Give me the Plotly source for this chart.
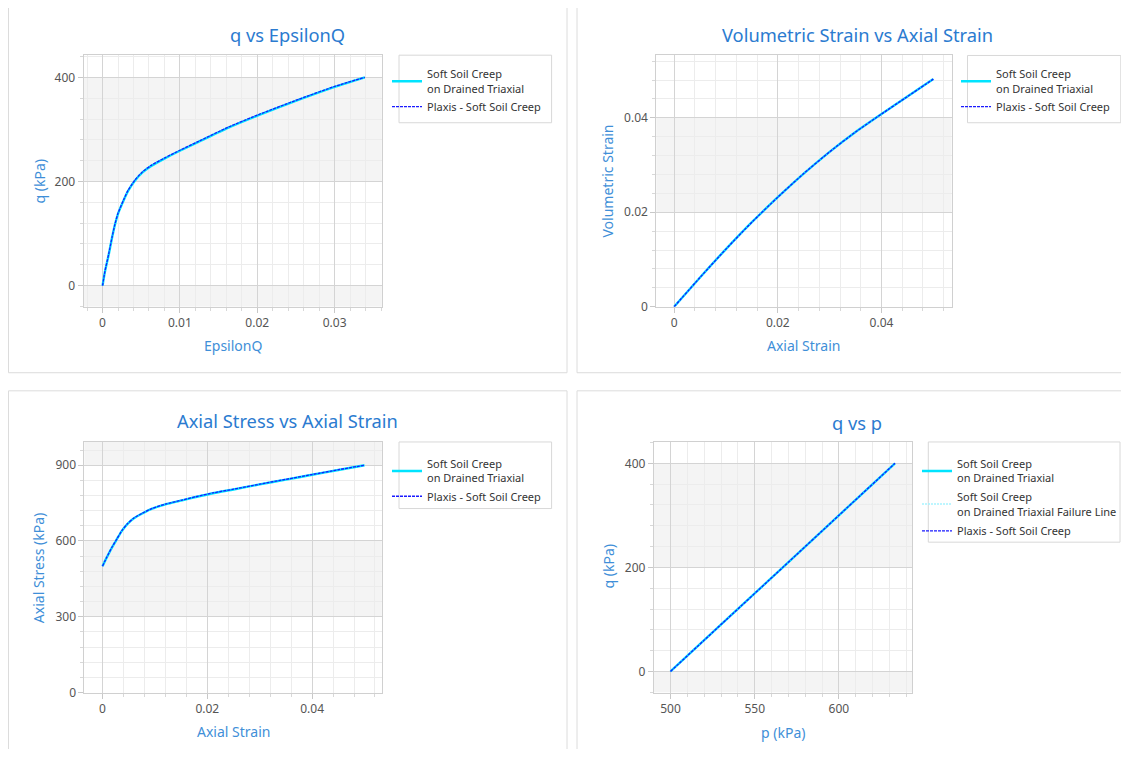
import plotly.graph_objects as go

# ---------------- data ----------------
# Panel 1: q vs EpsilonQ
eq_ssc = [0, 0.0003, 0.0008, 0.0012, 0.0016, 0.0020, 0.0027, 0.0033, 0.0042, 0.0052,
          0.0063, 0.0080, 0.0100, 0.0124, 0.0162, 0.0201, 0.0254, 0.0301, 0.0339]
q_ssc = [0, 26, 60, 90, 117, 138, 163, 182, 202, 218,
         230, 244, 259, 276, 303, 327, 357, 382, 400]
eq_plx = [0, 0.0003, 0.0008, 0.0012, 0.0016, 0.0020, 0.0027, 0.0033, 0.0042, 0.0052,
          0.0063, 0.0080, 0.0100, 0.0124, 0.0162, 0.0201, 0.0254, 0.0301, 0.0339]
q_plx = [0, 27, 61, 91, 118, 139, 164, 183, 203, 219,
         231, 245, 260, 277, 304, 328, 358, 383, 400]

# Panel 2: Volumetric strain vs axial strain
ea2_ssc = [0, 0.005, 0.010, 0.015, 0.020, 0.025, 0.030, 0.035, 0.040, 0.045, 0.050]
ev2_ssc = [0, 0.0062, 0.0122, 0.0179, 0.0232, 0.0282, 0.0328, 0.0370, 0.0408, 0.0445, 0.0482]
ea2_plx = [0, 0.005, 0.010, 0.015, 0.020, 0.025, 0.030, 0.035, 0.040, 0.045, 0.050]
ev2_plx = [0, 0.0062, 0.0122, 0.0179, 0.0232, 0.0282, 0.0328, 0.0370, 0.0408, 0.0445, 0.0482]

# Panel 3: Axial stress vs axial strain
ea3_ssc = [0, 0.0008, 0.0018, 0.0028, 0.0037, 0.0047, 0.0060, 0.0076, 0.0095, 0.0120,
           0.0152, 0.0178, 0.0213, 0.0250, 0.0300, 0.0350, 0.0400, 0.0450, 0.0500]
sa3_ssc = [500, 534, 574, 609, 640, 666, 690, 709, 728, 745,
           761, 774, 790, 804, 824, 843, 862, 881, 900]
ea3_plx = [0, 0.0008, 0.0018, 0.0028, 0.0037, 0.0047, 0.0060, 0.0076, 0.0095, 0.0120,
           0.0152, 0.0178, 0.0213, 0.0250, 0.0300, 0.0350, 0.0400, 0.0450, 0.0500]
sa3_plx = [500, 535, 575, 610, 641, 667, 691, 710, 729, 746,
           762, 775, 791, 805, 825, 844, 863, 882, 900]

# Panel 4: q vs p
p4_ssc = [500, 533.3, 566.7, 600, 633.3]
q4_ssc = [0, 100, 200, 300, 400]
p4_fail = [None]
q4_fail = [None]
p4_plx = [500, 533.3, 566.7, 600, 633.3]
q4_plx = [0, 100, 200, 300, 400]

name_ssc = "Soft Soil Creep<br>on Drained Triaxial"
name_fail = "Soft Soil Creep<br>on Drained Triaxial Failure Line"
name_plx = "Plaxis - Soft Soil Creep"

# ---------------- styling ----------------
OFF = 8                     # default page margin of the html body
W, H = 1121, 741            # figure size that fits the window without scrolling
FONT = "Noto Sans"
TITLE_C = "#2b7bd0"
AXT_C = "#3f8fd8"
TICK_C = "#555555"
BAND_C = "#f4f4f4"
MAJ_C = "#d4d4d4"
MIN_C = "#ececec"
CYAN = "#00e4ff"
BLUE = "#1a1aff"


def px(x):
    """screen pixel x -> paper fraction"""
    return (x - OFF) / W


def py(y):
    """screen pixel y -> paper fraction"""
    return 1 - (y - OFF) / H


fig = go.Figure()


def add_pair(xs, ys, xp, yp, ax, leg, extra=None):
    fig.add_trace(go.Scatter(x=xs, y=ys, mode="lines", name=name_ssc,
                             legendgroup=leg + "a",
                             line=dict(color=CYAN, width=2.4, shape="spline", smoothing=0.6),
                             xaxis="x" + ax, yaxis="y" + ax, legend=leg))
    if extra is not None:
        fig.add_trace(go.Scatter(x=extra[0], y=extra[1], mode="lines", name=name_fail,
                                 legendgroup=leg + "b",
                                 line=dict(color="#a8f4ff", width=1.5, dash="2px,1px"),
                                 xaxis="x" + ax, yaxis="y" + ax, legend=leg))
    fig.add_trace(go.Scatter(x=xp, y=yp, mode="lines", name=name_plx,
                             legendgroup=leg + "c",
                             line=dict(color=BLUE, width=1.3, dash="3px,1px",
                                       shape="spline", smoothing=0.6),
                             xaxis="x" + ax, yaxis="y" + ax, legend=leg))


add_pair(eq_ssc, q_ssc, eq_plx, q_plx, "", "legend")
add_pair(ea2_ssc, ev2_ssc, ea2_plx, ev2_plx, "2", "legend2")
add_pair(ea3_ssc, sa3_ssc, ea3_plx, sa3_plx, "3", "legend3")
add_pair(p4_ssc, q4_ssc, p4_plx, q4_plx, "4", "legend4", extra=(p4_fail, q4_fail))

panels = [
    # (suffix, x-domain px, y-domain px, xrange, yrange, xdtick, xminor, ydtick, yminor, bands)
    ("", (83.6, 381.8), (56, 310), [-0.00245, 0.0361], [-40.5, 442], 0.01, 0.002, 200, 40,
     [(-40.5, 0), (200, 400)]),
    ("2", (656.3, 951.5), (56, 310), [-0.00343, 0.0535], [0, 0.0532], 0.02, 0.004, 0.02, 0.004,
     [(0.02, 0.04)]),
    ("3", (84.4, 381.8), (446.7, 700), [-0.00345, 0.0533], [0, 992], 0.02, 0.004, 300, 60,
     [(300, 600), (900, 992)]),
    ("4", (653.8, 912.2), (446.7, 700), [490.1, 643.5], [-40.5, 441], 50, 10, 200, 40,
     [(-40.5, 0), (200, 400)]),
]

layout = dict(
    width=W, height=H, autosize=False,
    margin=dict(l=0, r=0, t=0, b=0),
    paper_bgcolor="white", plot_bgcolor="white",
    font=dict(family=FONT, color=TICK_C, size=12),
    hovermode=False,
)
shapes = []
for suf, xd, yd, xr, yr, xdt, xmn, ydt, ymn, bands in panels:
    xa = "xaxis" + suf
    ya = "yaxis" + suf
    common = dict(showline=True, linecolor="#d0d0d0", linewidth=1, mirror=True,
                  showgrid=True, gridcolor=MAJ_C, gridwidth=1, zeroline=False,
                  ticks="outside", ticklen=5, tickcolor="#c8c8c8",
                  tickfont=dict(family=FONT, size=12, color=TICK_C), tick0=0)
    layout[xa] = dict(common, domain=[px(xd[0]), px(xd[1])], range=xr, dtick=xdt,
                      anchor="y" + suf,
                      minor=dict(dtick=xmn, tick0=0, showgrid=True, gridcolor=MIN_C,
                                 ticks="outside", ticklen=3, tickcolor="#d8d8d8"))
    layout[ya] = dict(common, domain=[py(yd[1]), py(yd[0])], range=yr, dtick=ydt,
                      anchor="x" + suf,
                      minor=dict(dtick=ymn, tick0=0, showgrid=True, gridcolor=MIN_C,
                                 ticks="outside", ticklen=3, tickcolor="#d8d8d8"))
    for b0, b1 in bands:
        shapes.append(dict(type="rect", xref="x" + suf + " domain", yref="y" + suf,
                           x0=0, x1=1, y0=b0, y1=b1, fillcolor=BAND_C,
                           line=dict(width=0), layer="below"))

# panel frames
for x0, y0, x1, y1 in [(8.5, 4.3, 567, 376.7), (577, 4.3, 1126, 376.7),
                       (8.5, 395, 567, 790), (577, 395, 1126, 790)]:
    shapes.append(dict(type="rect", xref="paper", yref="paper",
                       x0=px(x0), x1=px(x1), y0=py(y1), y1=py(y0),
                       line=dict(color="#dcdcdc", width=1), fillcolor="rgba(0,0,0,0)"))

# legend frames
for x0, y0, x1, y1 in [(399, 55.7, 551.6, 124), (967.5, 56, 1120.8, 124),
                       (399, 446.7, 551.6, 514), (928.3, 446.7, 1120, 548)]:
    shapes.append(dict(type="rect", xref="paper", yref="paper",
                       x0=px(x0), x1=px(x1), y0=py(y1), y1=py(y0),
                       line=dict(color="#d8d8d8", width=1), fillcolor="rgba(0,0,0,0)"))
layout["shapes"] = shapes

leg_common = dict(bgcolor="rgba(0,0,0,0)", borderwidth=0, xanchor="left", yanchor="top",
                  font=dict(family=FONT, size=11, color="#333333"), itemwidth=30,
                  tracegroupgap=0)
layout["legend"] = dict(leg_common, x=px(387), y=py(61))
layout["legend2"] = dict(leg_common, x=px(956), y=py(61))
layout["legend3"] = dict(leg_common, x=px(387), y=py(455))
layout["legend4"] = dict(leg_common, x=px(917), y=py(455), tracegroupgap=1.5)

annotations = []


def ann(text, x, y, size, color, angle=0):
    annotations.append(dict(text=text, x=px(x), y=py(y), xref="paper", yref="paper",
                            showarrow=False, xanchor="center", yanchor="middle",
                            textangle=angle, font=dict(family=FONT, size=size, color=color)))


ann("q vs EpsilonQ", 287, 35, 18.3, TITLE_C)
ann("Volumetric Strain vs Axial Strain", 857, 35, 18.3, TITLE_C)
ann("Axial Stress vs Axial Strain", 287, 425, 18.3, TITLE_C)
ann("q vs p", 857, 427, 18.3, TITLE_C)
ann("EpsilonQ", 233, 349, 14, AXT_C)
ann("Axial Strain", 803.5, 349, 14, AXT_C)
ann("Axial Strain", 233, 739, 14, AXT_C)
ann("p (kPa)", 783, 740, 14, AXT_C)
ann("q (kPa)", 39.3, 183, 14, AXT_C, -90)
ann("Volumetric Strain", 607.4, 183, 14, AXT_C, -90)
ann("Axial Stress (kPa)", 39.3, 574, 14, AXT_C, -90)
ann("q (kPa)", 608.5, 573, 14, AXT_C, -90)
layout["annotations"] = annotations

fig.update_layout(**layout)
fig.write_html("out.html")
